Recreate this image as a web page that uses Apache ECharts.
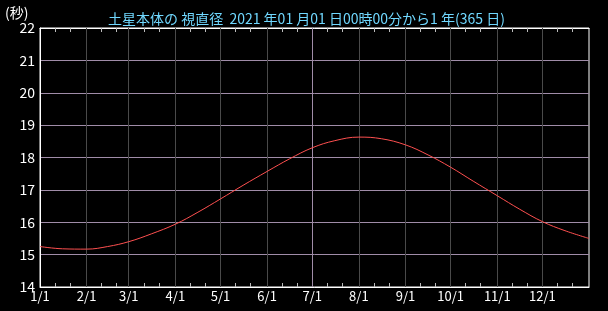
<!DOCTYPE html>
<html><head><meta charset="utf-8">
<script src="https://cdn.jsdelivr.net/npm/echarts@6/dist/echarts.min.js"></script>
<style>html,body{margin:0;padding:0;background:#000;}#c{width:608px;height:311px;}</style>
</head><body><div id="c"></div>
<script>
// Day offsets (from 2021-01-01) of month starts and their tick labels
const monthStarts = [0, 31, 59, 90, 120, 151, 181, 212, 243, 273, 304, 334];
const monthLabels = ['1/1','2/1','3/1','4/1','5/1','6/1','7/1','8/1','9/1','10/1','11/1','12/1'];
// Minor tick days (11th and 21st of each month)
const minorTicks = monthStarts.flatMap(s => [s + 10, s + 20]);
// Saturn apparent diameter (arc-seconds)
const days   = [0, 15, 31, 45, 59, 74, 90, 105, 120, 135, 151, 166, 181, 196, 212, 227, 243, 258, 273, 288, 304, 319, 334, 349, 365];
const values = [15.25, 15.18, 15.17, 15.25, 15.40, 15.64, 15.94, 16.31, 16.72, 17.14, 17.57, 17.96, 18.30, 18.52, 18.63, 18.58, 18.39, 18.08, 17.70, 17.27, 16.82, 16.40, 16.02, 15.74, 15.50];
const yTicks = [14, 15, 16, 17, 18, 19, 20, 21, 22];

const font = '"Noto Sans CJK JP", "DejaVu Sans", sans-serif';
const chart = echarts.init(document.getElementById('c'), null, {renderer: 'canvas'});
const xCommon = {
  type: 'value', min: 0, max: 365,
  axisLine: {show: true, lineStyle: {color: '#ffffff', width: 1}},
  axisTick: {show: true, inside: true, length: 4, customValues: minorTicks, lineStyle: {color: '#bbbbbb'}},
  splitLine: {show: false}
};
chart.setOption({
  backgroundColor: '#000000',
  animation: false,
  title: {
    text: '土星本体の 視直径  2021 年01 月01 日00時00分から1 年(365 日)',
    left: 103, top: 7,
    textStyle: {color: '#70d8ff', fontSize: 14, fontWeight: 'normal', fontFamily: font}
  },
  graphic: [{type: 'text', left: 5, top: 6, style: {text: '(秒)', fill: '#ffffff', font: '14px ' + font}}],
  grid: {left: 40, top: 28, right: 19, bottom: 24, show: true, borderColor: '#ffffff', borderWidth: 1},
  xAxis: [
    Object.assign({}, xCommon, {
      position: 'bottom',
      axisLabel: {show: true, customValues: monthStarts, color: '#ffffff', fontSize: 13, fontFamily: font, margin: 3,
        formatter: v => monthLabels[monthStarts.indexOf(v)] || ''}
    }),
    Object.assign({}, xCommon, {position: 'top', axisLabel: {show: false}})
  ],
  yAxis: {
    type: 'value', min: yTicks[0], max: yTicks[yTicks.length - 1], interval: 1,
    axisLine: {show: true, lineStyle: {color: '#ffffff'}},
    axisTick: {show: false},
    axisLabel: {color: '#ffffff', fontSize: 14, fontFamily: font, margin: 5},
    splitLine: {show: true, lineStyle: {color: '#a08ca8', width: 1}}
  },
  series: [
    {
      type: 'line', data: [], silent: true, z: 1,
      markLine: {
        silent: true, symbol: 'none', label: {show: false}, animation: false,
        data: monthStarts.slice(1).map(d => ({xAxis: d, lineStyle: {color: d === 181 ? '#a08ca8' : '#4a4a4a', width: 1, type: 'solid'}}))
      }
    },
    {
      type: 'line', data: days.map((d, i) => [d, values[i]]),
      smooth: 0.4, showSymbol: false, z: 5,
      lineStyle: {color: '#ff5050', width: 1}
    }
  ]
});
</script></body></html>
